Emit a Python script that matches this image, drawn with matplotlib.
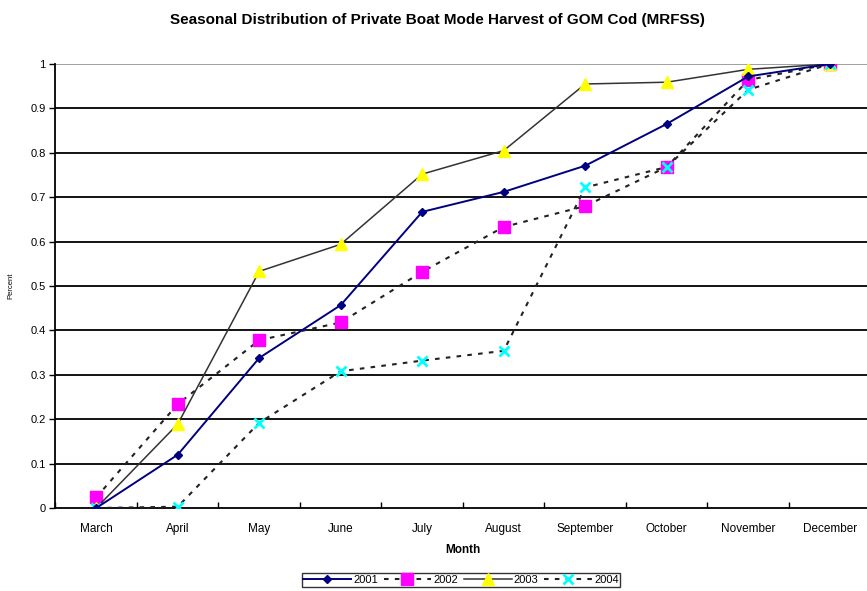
import matplotlib
matplotlib.use("Agg")
import matplotlib.pyplot as plt

plt.rcParams['font.family'] = ['Liberation Sans', 'DejaVu Sans']

months = ["March", "April", "May", "June", "July", "August",
          "September", "October", "November", "December"]
y2001 = [0.0, 0.12, 0.338, 0.457, 0.667, 0.712, 0.771, 0.865, 0.972, 1.0]
y2002 = [0.024, 0.234, 0.378, 0.418, 0.532, 0.633, 0.680, 0.768, 0.964, 1.0]
y2003 = [0.0, 0.189, 0.533, 0.594, 0.752, 0.805, 0.955, 0.959, 0.988, 1.0]
y2004 = [0.0, 0.003, 0.192, 0.308, 0.332, 0.354, 0.722, 0.768, 0.942, 1.0]
yticks = [0, 0.1, 0.2, 0.3, 0.4, 0.5, 0.6, 0.7, 0.8, 0.9, 1]
ytick_labels = ["0", "0.1", "0.2", "0.3", "0.4", "0.5", "0.6", "0.7", "0.8", "0.9", "1"]

fig = plt.figure(figsize=(8.67, 5.91), dpi=100)
ax = fig.add_axes([0.064, 0.1404, 0.94, 0.7513])

x = list(range(len(months)))
dash = (0, (2.2, 3.0))

ax.plot(x, y2001, color="#000080", lw=1.4, marker="D", ms=4.5,
        mfc="#000080", mec="#000080", label="2001", zorder=4)
ax.plot(x, y2002, color="#222222", lw=1.5, ls=dash, marker="s", ms=8.5,
        mfc="#ff00ff", mec="#ff00ff", label="2002", zorder=3)
ax.plot(x, y2003, color="#333333", lw=1.1, marker="^", ms=8,
        mfc="#ffff00", mec="#ffff00", label="2003", zorder=3)
ax.plot(x, y2004, color="#222222", lw=1.5, ls=dash, marker="x", ms=7,
        mew=2.0, mec="#00ffff", label="2004", zorder=3)

ax.set_xlim(-0.5, 9.5)
ax.set_ylim(0, 1)

# horizontal gridlines
for v in yticks[1:-1]:
    ax.axhline(v, color="black", lw=1.3, zorder=1)
ax.axhline(1.0, color="#999999", lw=1.3, zorder=1)

ax.set_yticks(yticks)
ax.set_yticklabels(ytick_labels)
ax.set_xticks(x)
ax.set_xticklabels(months)
ax.set_xticks([i + 0.5 for i in range(-1, 10)], minor=True)
ax.tick_params(axis="x", which="major", length=0, pad=11, labelsize=8.5)
ax.tick_params(axis="x", which="minor", direction="in", length=4, width=1)
ax.tick_params(axis="y", direction="out", length=4, width=1, labelsize=8, pad=3)

for s in ["top", "right"]:
    ax.spines[s].set_visible(False)
for s in ["left", "bottom"]:
    ax.spines[s].set_linewidth(1.3)

ax.set_xlabel("Month", fontsize=8.5, fontweight="bold", labelpad=6)
ax.set_ylabel("Percent", fontsize=5.5)
ax.yaxis.set_label_coords(-0.051, 0.5)

fig.suptitle("Seasonal Distribution of Private Boat Mode Harvest of GOM Cod (MRFSS)",
             x=0.505, y=0.978, fontsize=11, fontweight="bold")

leg = fig.legend(loc="center", bbox_to_anchor=(461 / 867, 1 - 580 / 591), ncol=4,
                 fontsize=8, frameon=True, fancybox=False, handlelength=4.3,
                 handletextpad=0.2, columnspacing=0.5, borderpad=0.15,
                 edgecolor="black")
leg.get_frame().set_linewidth(1.0)

fig.savefig("out.png", dpi=100)
